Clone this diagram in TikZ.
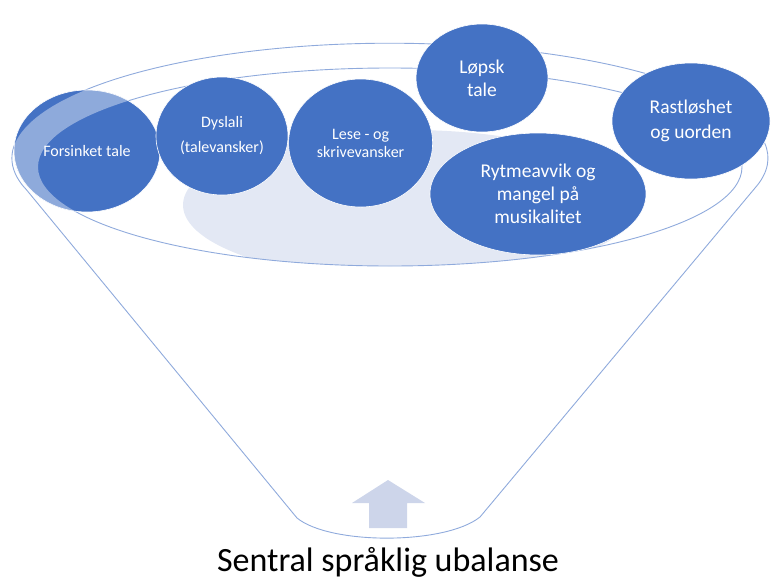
\documentclass[tikz,border=0pt]{standalone}
\usepackage{fontspec}
\setmainfont{Carlito}
\usetikzlibrary{shapes.geometric, positioning}

\definecolor{bubbleblue}{HTML}{4472C4}
\definecolor{rimblue}{HTML}{8FAADC}
\definecolor{shadeblue}{HTML}{E3E8F4}
\definecolor{arrowblue}{HTML}{CDD5EA}

\tikzset{
  bubble/.style={ellipse, fill=bubbleblue, draw=white, line width=0.6pt, text=white, align=center, inner sep=0pt},
  rim/.style={draw=rimblue, line width=0.9pt},
  small/.style={font=\fontsize{16}{18}\selectfont},
  big/.style={font=\fontsize{19.5}{23}\selectfont}
}

\begin{document}
\begin{tikzpicture}[x=1pt, y=-1pt]
\useasboundingbox (0,0) rectangle (771,581);
% shadow inside the funnel
\begin{scope}
\clip (390,167) ellipse [x radius=352, y radius=99];
\fill[shadeblue] (410,205) ellipse [x radius=227, y radius=75];
\end{scope}
% funnel
\draw[rim] (25,188) -- (297,518) .. controls (330,545) and (445,545) .. (480,517) -- (755,188)
  arc [start angle=15, end angle=-195, x radius=378, y radius=115] -- cycle;
\draw[rim] (390,167) ellipse [x radius=352, y radius=99];
\node [bubble, small, minimum width=146, minimum height=122] (forsinket) at (87,151) {Forsinket tale};
% rim seen through
\begin{scope}
\clip (87,151) ellipse [x radius=73, y radius=61];
\fill[white, opacity=0.4, even odd rule] (25,188) -- (297,518) .. controls (330,545) and (445,545) .. (480,517) -- (755,188)
  arc [start angle=15, end angle=-195, x radius=378, y radius=115] -- cycle
  (390,167) ellipse [x radius=352, y radius=99];
\end{scope}
\node [bubble, small, minimum width=132, minimum height=118] (dyslali) at (222,136) {Dyslali\\[7pt](talevansker)};
\node [bubble, small, minimum width=144, minimum height=128, right=0pt of dyslali, yshift=-7pt] (lese) {Lese - og\\skrivevansker};
\node [bubble, big, minimum width=132, minimum height=108] (lopsk) at (482,78) {Løpsk\\tale};
\node [bubble, big, minimum width=158, minimum height=116] (rastloshet) at (691,121) {Rastløshet\\[2pt]og uorden};
\node [bubble, big, minimum width=216, minimum height=122] (rytme) at (538,194) {Rytmeavvik og\\mangel på\\musikalitet};
% arrow
\fill[arrowblue] (388,480) -- (425,503) -- (407,503) -- (407,528) -- (369,528) -- (369,503) -- (352,503) -- cycle;
\node [font=\fontsize{34}{40}\selectfont] (title) at (388,562) {Sentral språklig ubalanse};
\end{tikzpicture}
\end{document}
